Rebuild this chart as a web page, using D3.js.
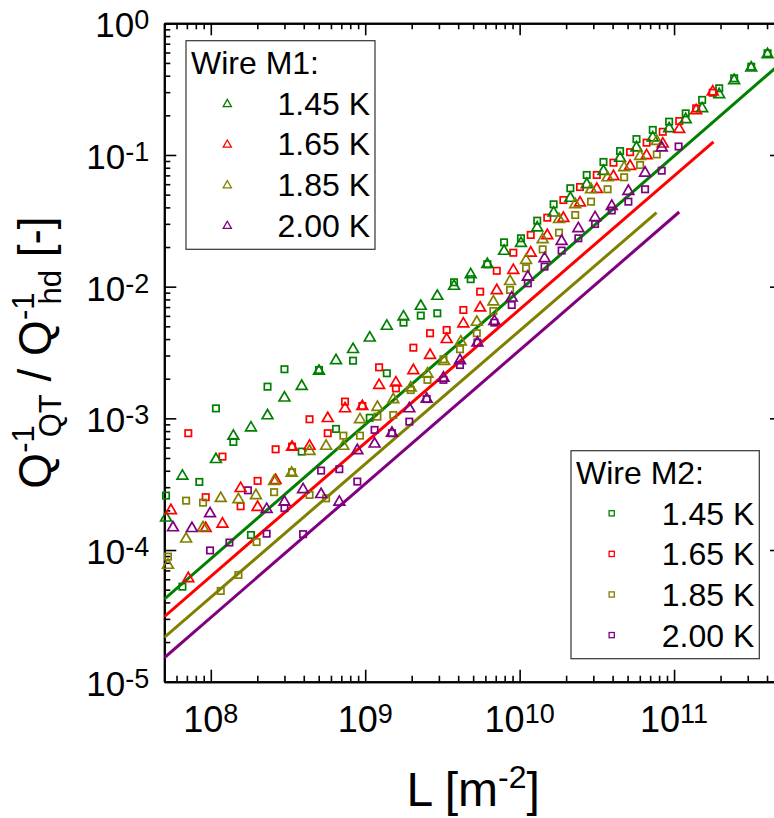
<!DOCTYPE html>
<html>
<head>
<meta charset="utf-8">
<script src="https://cdn.jsdelivr.net/npm/d3@7"></script>
<style>
  body { margin: 0; background: #fff; }
  svg { display: block; font-family: "Liberation Sans", Arial, sans-serif; }
</style>
</head>
<body>
<div id="vis"></div>
<script>
// ----- DATA: [L (m^-2), Q^-1_QT / Q^-1_hd] ----- //
// Wire M1 (triangles)
const m1_145 = [[5.13e7,1.79e-4],[6.55e7,3.72e-4],[1.08e8,4.98e-4],[1.40e8,7.48e-4],[1.82e8,8.65e-4],[2.33e8,1.07e-3],[3.00e8,1.46e-3],[3.88e8,1.79e-3],[5.02e8,2.33e-3],[6.47e8,2.81e-3],[8.34e8,3.41e-3],[1.07e9,4.17e-3],[1.38e9,5.12e-3],[1.77e9,6.03e-3],[2.29e9,7.26e-3],[2.93e9,8.65e-3],[3.76e9,1.03e-2],[4.82e9,1.26e-2],[6.18e9,1.51e-2],[7.93e9,1.90e-2],[1.02e10,2.18e-2],[1.30e10,2.86e-2],[1.66e10,3.71e-2],[2.13e10,4.80e-2],[2.72e10,6.10e-2],[3.49e10,7.69e-2],[4.47e10,9.66e-2],[5.71e10,0.116],[7.28e10,0.138],[9.29e10,0.162],[1.19e11,0.190],[1.52e11,0.230],[1.96e11,0.294],[2.45e11,0.376],[3.16e11,0.468],[4.03e11,0.592]];
const m1_165 = [[5.52e7,2.04e-4],[7.15e7,6.21e-5],[9.27e7,1.49e-4],[1.19e8,1.61e-4],[1.56e8,3.00e-4],[2.01e8,2.16e-4],[2.63e8,3.45e-4],[3.36e8,6.17e-4],[4.36e8,6.28e-4],[5.72e8,1.02e-3],[7.40e8,1.21e-3],[9.58e8,1.26e-3],[1.23e9,1.82e-3],[1.58e9,1.90e-3],[2.05e9,2.36e-3],[2.63e9,3.08e-3],[3.37e9,4.06e-3],[4.32e9,5.33e-3],[5.55e9,7.05e-3],[7.11e9,9.55e-3],[9.10e9,1.36e-2],[1.18e10,1.84e-2],[1.51e10,2.50e-2],[1.92e10,3.38e-2],[2.46e10,4.42e-2],[3.16e10,5.61e-2],[4.05e10,7.01e-2],[5.19e10,8.39e-2],[6.64e10,0.101],[8.45e10,0.124],[1.08e11,0.160],[1.39e11,0.222],[1.78e11,0.308]];
const m1_185 = [[5.28e7,7.84e-5],[6.92e7,1.24e-4],[8.91e7,1.51e-4],[1.16e8,2.52e-4],[1.51e8,2.47e-4],[1.96e8,2.65e-4],[2.57e8,3.40e-4],[3.34e8,3.92e-4],[4.36e8,5.75e-4],[5.58e8,6.28e-4],[7.22e8,6.28e-4],[9.25e8,1.00e-3],[1.20e9,1.24e-3],[1.52e9,1.42e-3],[1.97e9,1.74e-3],[2.53e9,2.22e-3],[3.24e9,2.77e-3],[4.16e9,3.89e-3],[5.28e9,5.49e-3],[6.76e9,7.83e-3],[8.67e9,1.12e-2],[1.10e10,1.62e-2],[1.41e10,2.33e-2],[1.80e10,3.31e-2],[2.29e10,4.30e-2],[2.90e10,5.59e-2],[3.71e10,6.87e-2],[4.75e10,8.20e-2],[6.03e10,0.100],[7.73e10,0.130]];
const m1_200 = [[5.69e7,1.51e-4],[7.55e7,1.49e-4],[9.89e7,1.93e-4],[2.30e8,2.08e-4],[3.00e8,2.36e-4],[3.96e8,2.94e-4],[5.18e8,2.70e-4],[6.80e8,2.36e-4],[8.89e8,5.82e-4],[1.15e9,6.53e-4],[1.49e9,7.88e-4],[1.93e9,1.21e-3],[2.50e9,1.43e-3],[3.21e9,2.07e-3],[4.11e9,2.81e-3],[5.33e9,3.82e-3],[6.86e9,5.58e-3],[8.89e9,8.39e-3],[1.13e10,1.21e-2],[1.45e10,1.67e-2],[1.87e10,2.26e-2],[2.40e10,2.82e-2],[3.08e10,3.42e-2],[3.95e10,4.17e-2],[5.06e10,5.42e-2],[6.49e10,7.46e-2],[8.32e10,0.116]];

// Wire M2 (squares)
const m2_145 = [[5.13e7,2.59e-4],[6.55e7,5.27e-5],[8.43e7,3.29e-4],[1.08e8,1.19e-3],[1.40e8,6.62e-4],[1.82e8,1.30e-4],[2.33e8,1.74e-3],[3.00e8,2.36e-3],[3.88e8,5.59e-4],[5.02e8,2.33e-3],[6.47e8,8.31e-4],[8.34e8,2.74e-3],[1.07e9,1.01e-3],[1.38e9,2.20e-3],[1.77e9,5.33e-3],[2.29e9,6.03e-3],[2.93e9,6.28e-3],[3.76e9,1.08e-2],[4.82e9,1.14e-2],[6.18e9,1.48e-2],[7.93e9,2.17e-2],[1.02e10,2.33e-2],[1.30e10,3.17e-2],[1.66e10,4.22e-2],[2.13e10,5.59e-2],[2.72e10,7.05e-2],[3.49e10,8.85e-2],[4.47e10,0.107],[5.71e10,0.132],[7.28e10,0.155],[9.29e10,0.179],[1.19e11,0.207],[1.52e11,0.262],[1.96e11,0.321],[2.45e11,0.382],[3.16e11,0.468],[4.03e11,0.592]];
const m2_165 = [[7.15e7,7.71e-4],[9.27e7,2.52e-4],[1.19e8,5.12e-4],[1.56e8,2.15e-4],[2.01e8,3.35e-4],[2.63e8,5.82e-4],[3.36e8,6.10e-4],[4.36e8,9.84e-4],[5.72e8,7.71e-4],[7.40e8,1.34e-3],[9.58e8,1.24e-3],[1.23e9,2.44e-3],[1.58e9,1.69e-3],[2.05e9,3.44e-3],[2.63e9,4.43e-3],[3.37e9,4.69e-3],[4.32e9,6.65e-3],[5.55e9,9.16e-3],[7.11e9,1.32e-2],[9.10e9,1.81e-2],[1.18e10,2.47e-2],[1.51e10,3.34e-2],[1.92e10,4.55e-2],[2.46e10,5.71e-2],[3.16e10,7.05e-2],[4.05e10,8.74e-2],[5.19e10,0.105],[6.64e10,0.124],[8.45e10,0.150],[1.08e11,0.181],[1.39e11,0.226],[1.78e11,0.297]];
const m2_185 = [[5.28e7,8.91e-5],[6.92e7,2.37e-4],[8.91e7,2.29e-4],[1.16e8,4.89e-5],[1.51e8,6.47e-5],[1.98e8,1.15e-4],[2.57e8,2.75e-4],[3.36e8,3.90e-4],[4.36e8,2.62e-4],[5.58e8,2.47e-4],[7.22e8,7.39e-4],[9.25e8,7.39e-4],[1.20e9,1.03e-3],[1.52e9,1.06e-3],[1.97e9,1.64e-3],[2.53e9,1.96e-3],[3.21e9,2.81e-3],[4.11e9,3.35e-3],[5.28e9,4.43e-3],[6.76e9,6.53e-3],[8.67e9,9.44e-3],[1.10e10,1.38e-2],[1.41e10,1.92e-2],[1.80e10,2.57e-2],[2.29e10,3.50e-2],[2.90e10,4.42e-2],[3.71e10,5.49e-2],[4.75e10,6.77e-2],[6.03e10,8.39e-2],[7.73e10,0.101]];
const m2_200 = [[9.89e7,9.93e-5],[1.32e8,1.14e-4],[1.74e8,2.84e-4],[2.30e8,1.33e-4],[3.00e8,2.08e-4],[3.96e8,1.32e-4],[5.18e8,4.01e-4],[6.80e8,4.11e-4],[8.89e8,3.31e-4],[1.15e9,8.17e-4],[1.49e9,7.71e-4],[1.93e9,9.44e-4],[2.50e9,1.40e-3],[3.21e9,1.96e-3],[4.11e9,2.54e-3],[5.33e9,3.76e-3],[6.86e9,5.33e-3],[8.89e9,7.26e-3],[1.13e10,1.06e-2],[1.45e10,1.42e-2],[1.87e10,1.88e-2],[2.40e10,2.33e-2],[3.08e10,2.99e-2],[3.95e10,3.79e-2],[5.06e10,4.42e-2],[6.49e10,5.49e-2],[8.32e10,7.60e-2],[1.07e11,0.116]];

// fitted lines (end points)
const fit_145 = [[5e7,4.23e-5],[4.5e11,0.455]];
const fit_165 = [[5e7,3.12e-5],[1.8e11,0.126]];
const fit_185 = [[5e7,2.17e-5],[7.7e10,3.65e-2]];
const fit_200 = [[5e7,1.52e-5],[1.08e11,3.69e-2]];

const temps = ["1.45 K", "1.65 K", "1.85 K", "2.00 K"];
const colors = ["#008000", "#ff0000", "#808000", "#800080"];
const xMajor = [1e8, 1e9, 1e10, 1e11];
const yMajor = [1e-5, 1e-4, 1e-3, 1e-2, 1e-1, 1];

const m1 = [m1_145, m1_165, m1_185, m1_200];
const m2 = [m2_145, m2_165, m2_185, m2_200];
const fits = [fit_145, fit_165, fit_185, fit_200];

// ----- SETUP ----- //
let margin = { top: 23.3, left: 164.3 },
  width = 617.7,
  height = 658.4;

const svg = d3.select("#vis")
  .append("svg")
  .attr("width", 774)
  .attr("height", 818);

const g = svg.append("g")
  .attr("transform", `translate(${margin.left},${margin.top})`);

let x = d3.scaleLog().domain([5e7, 5e11]).range([0, width]);
let y = d3.scaleLog().domain([1e-5, 1]).range([height, 0]);

const isMajor = (v) => Math.abs(Math.log10(v) - Math.round(Math.log10(v))) < 1e-6;
let xMinor = x.ticks().filter((v) => !isMajor(v));
let yMinor = y.ticks().filter((v) => !isMajor(v));

// ----- AXES (ticks pointing inward) ----- //
function styleAxis(sel) {
  sel.select(".domain").attr("stroke", "#000").attr("stroke-width", 2);
  sel.selectAll(".tick line").attr("stroke", "#000").attr("stroke-width", 1.6);
}

g.append("g").attr("transform", `translate(0,${height})`)
  .call(d3.axisBottom(x).tickValues(xMinor).tickSize(-6).tickSizeOuter(0).tickFormat(""))
  .call(styleAxis);
g.append("g").attr("transform", `translate(0,${height})`)
  .call(d3.axisBottom(x).tickValues(xMajor).tickSize(-12).tickSizeOuter(0).tickFormat(""))
  .call(styleAxis);
g.append("g")
  .call(d3.axisTop(x).tickValues(xMinor).tickSize(-6).tickSizeOuter(0).tickFormat(""))
  .call(styleAxis);
g.append("g")
  .call(d3.axisTop(x).tickValues(xMajor).tickSize(-12).tickSizeOuter(0).tickFormat(""))
  .call(styleAxis);
g.append("g")
  .call(d3.axisLeft(y).tickValues(yMinor).tickSize(-6).tickSizeOuter(0).tickFormat(""))
  .call(styleAxis);
g.append("g")
  .call(d3.axisLeft(y).tickValues(yMajor).tickSize(-12).tickSizeOuter(0).tickFormat(""))
  .call(styleAxis);
g.append("g").attr("transform", `translate(${width},0)`)
  .call(d3.axisRight(y).tickValues(yMinor).tickSize(-6).tickSizeOuter(0).tickFormat(""))
  .call(styleAxis);
g.append("g").attr("transform", `translate(${width},0)`)
  .call(d3.axisRight(y).tickValues(yMajor).tickSize(-12).tickSizeOuter(0).tickFormat(""))
  .call(styleAxis);

// tick labels as 10^n
g.selectAll(".xlab")
  .data(xMajor)
  .join("text")
  .attr("class", "xlab")
  .attr("x", (d) => x(d))
  .attr("y", height + 50)
  .attr("text-anchor", "middle")
  .style("font-size", "36px")
  .each(function (d) {
    let t = d3.select(this);
    t.append("tspan").text("10");
    t.append("tspan").attr("dy", -9).style("font-size", "27px").text(Math.round(Math.log10(d)));
  });

g.selectAll(".ylab")
  .data(yMajor)
  .join("text")
  .attr("class", "ylab")
  .attr("x", -15)
  .attr("y", (d) => y(d) + 14)
  .attr("text-anchor", "end")
  .style("font-size", "35px")
  .each(function (d) {
    let t = d3.select(this);
    t.append("tspan").text("10");
    t.append("tspan").attr("dy", -8).style("font-size", "27px").text(Math.round(Math.log10(d)));
  });

// axis titles
let xTitle = svg.append("text")
  .attr("x", margin.left + width / 2)
  .attr("y", 806)
  .attr("text-anchor", "middle")
  .style("font-size", "48px");
xTitle.append("tspan").text("L [m");
xTitle.append("tspan").attr("dy", -18).style("font-size", "32px").text("-2");
xTitle.append("tspan").attr("dy", 18).text("]");

let yTitle = svg.append("text")
  .attr("transform", `translate(51,${margin.top + height / 2}) rotate(-90)`)
  .attr("text-anchor", "middle")
  .style("font-size", "46px");
yTitle.append("tspan").text("Q");
yTitle.append("tspan").attr("dy", -17).style("font-size", "31px").text("-1");
yTitle.append("tspan").attr("dx", -12).attr("dy", 27).style("font-size", "31px").text("QT");
yTitle.append("tspan").attr("dy", -10).text(" / Q");
yTitle.append("tspan").attr("dy", -17).style("font-size", "31px").text("-1");
yTitle.append("tspan").attr("dx", -12).attr("dy", 27).style("font-size", "31px").text("hd");
yTitle.append("tspan").attr("dy", -10).text(" [-]");

// ----- FIT LINES ----- //
g.append("defs").append("clipPath").attr("id", "clip")
  .append("rect").attr("width", width).attr("height", height);

let line = d3.line().x((d) => x(d[0])).y((d) => y(d[1]));

g.append("g").attr("clip-path", "url(#clip)")
  .selectAll(".fit")
  .data(fits)
  .join("path")
  .attr("class", "fit")
  .attr("d", line)
  .attr("fill", "none")
  .attr("stroke", (d, i) => colors[i])
  .attr("stroke-width", 3);

// ----- MARKERS ----- //
const triPath = "M0,-5L5.4,4.3L-5.4,4.3Z";
const sq = 6.4;

m2.forEach(function (series, i) {
  g.append("g").selectAll("rect")
    .data(series)
    .join("rect")
    .attr("x", (d) => x(d[0]) - sq / 2)
    .attr("y", (d) => y(d[1]) - sq / 2)
    .attr("width", sq)
    .attr("height", sq)
    .attr("fill", "none")
    .attr("stroke", colors[i])
    .attr("stroke-width", 1.7);
});

m1.forEach(function (series, i) {
  g.append("g").selectAll("path")
    .data(series)
    .join("path")
    .attr("d", triPath)
    .attr("transform", (d) => `translate(${x(d[0])},${y(d[1])})`)
    .attr("fill", "none")
    .attr("stroke", colors[i])
    .attr("stroke-width", 1.7);
});

// ----- LEGENDS ----- //
function drawLegend(box, title, kind) {
  let lg = svg.append("g");
  lg.append("rect")
    .attr("x", box.x).attr("y", box.y)
    .attr("width", box.w).attr("height", box.h)
    .attr("fill", "#fff")
    .attr("stroke", "#333")
    .attr("stroke-width", 1.2);
  lg.append("text")
    .attr("x", box.x + 5)
    .attr("y", box.y + 33.6)
    .style("font-size", "32px")
    .text(title);
  temps.forEach(function (t, i) {
    let cy = box.y + 62.6 + i * 40.6;
    if (kind === "tri") {
      lg.append("path")
        .attr("d", "M0,-3.9L4.1,3.3L-4.1,3.3Z")
        .attr("transform", `translate(${box.x + box.mx},${cy})`)
        .attr("fill", "none")
        .attr("stroke", colors[i])
        .attr("stroke-width", 1.3);
    } else {
      lg.append("rect")
        .attr("x", box.x + box.mx - 2.6).attr("y", cy - 2.6)
        .attr("width", 5.2).attr("height", 5.2)
        .attr("fill", "none")
        .attr("stroke", colors[i])
        .attr("stroke-width", 1.3);
    }
    lg.append("text")
      .attr("x", box.x + box.w - 5)
      .attr("y", cy + 11.5)
      .attr("text-anchor", "end")
      .style("font-size", "32px")
      .text(t);
  });
}

drawLegend({ x: 186, y: 40.7, w: 189, h: 208.6, mx: 41.3 }, "Wire M1:", "tri");
drawLegend({ x: 571, y: 450.7, w: 188.3, h: 208, mx: 40.7 }, "Wire M2:", "sq");
</script>
</body>
</html>
